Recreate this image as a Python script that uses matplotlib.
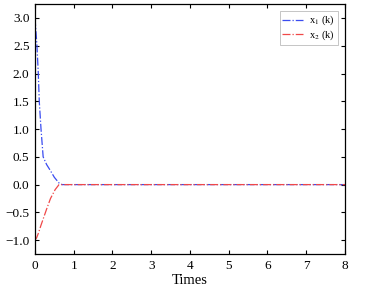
import matplotlib
matplotlib.use("Agg")
import matplotlib.pyplot as plt

# values
t1 = [0.0, 0.02, 0.05, 0.085, 0.11, 0.155, 0.21, 0.3, 0.39, 0.5, 0.63, 0.7, 8.0]
x1 = [3.0, 2.8, 2.5, 2.0, 1.5, 1.0, 0.5, 0.36, 0.26, 0.13, 0.02, 0.0, 0.0]
t2 = [0.0, 0.04, 0.09, 0.15, 0.22, 0.3, 0.4, 0.52, 0.62, 0.7, 8.0]
x2 = [-1.0, -0.96, -0.87, -0.74, -0.6, -0.44, -0.25, -0.09, 0.0, 0.0, 0.0]

xticks = [0, 1, 2, 3, 4, 5, 6, 7, 8]
yticks = [-1.0, -0.5, 0.0, 0.5, 1.0, 1.5, 2.0, 2.5, 3.0]

plt.rcParams["font.family"] = ["Liberation Serif", "DejaVu Serif"]
plt.rcParams["mathtext.fontset"] = "stix"

fig = plt.figure(figsize=(3.86, 2.93), dpi=100, facecolor="white")
ax = fig.add_axes([0.0907, 0.133, 0.803, 0.853])

ax.plot(t1, x1, linestyle="-.", color="#3a4cf0", lw=0.9, label=r"x$_1$ (k)")
ax.plot(t2, x2, linestyle="-.", color="#f04848", lw=0.9, label=r"x$_2$ (k)")

ax.set_xlim(0, 8)
ax.set_ylim(-1.25, 3.25)
ax.set_xticks(xticks)
ax.set_yticks(yticks)
ax.set_xticklabels([str(v) for v in xticks], fontsize=9.5)
ax.set_yticklabels([f"{v:.1f}".replace("-", "\u2212") for v in yticks], fontsize=9.5)
ax.tick_params(direction="in", top=True, right=True, length=3, width=0.8, pad=4)
for s in ax.spines.values():
    s.set_linewidth(0.9)
ax.set_xlabel("Times", fontsize=10.5, labelpad=2)

leg = ax.legend(loc="upper right", fontsize=7.5, frameon=True, fancybox=False,
                edgecolor="#aaaaaa", handlelength=2.0, borderpad=0.25,
                labelspacing=0.1, borderaxespad=0.7, handletextpad=0.6)
leg.get_frame().set_linewidth(0.6)

fig.savefig("out.png", dpi=100, facecolor="white")
